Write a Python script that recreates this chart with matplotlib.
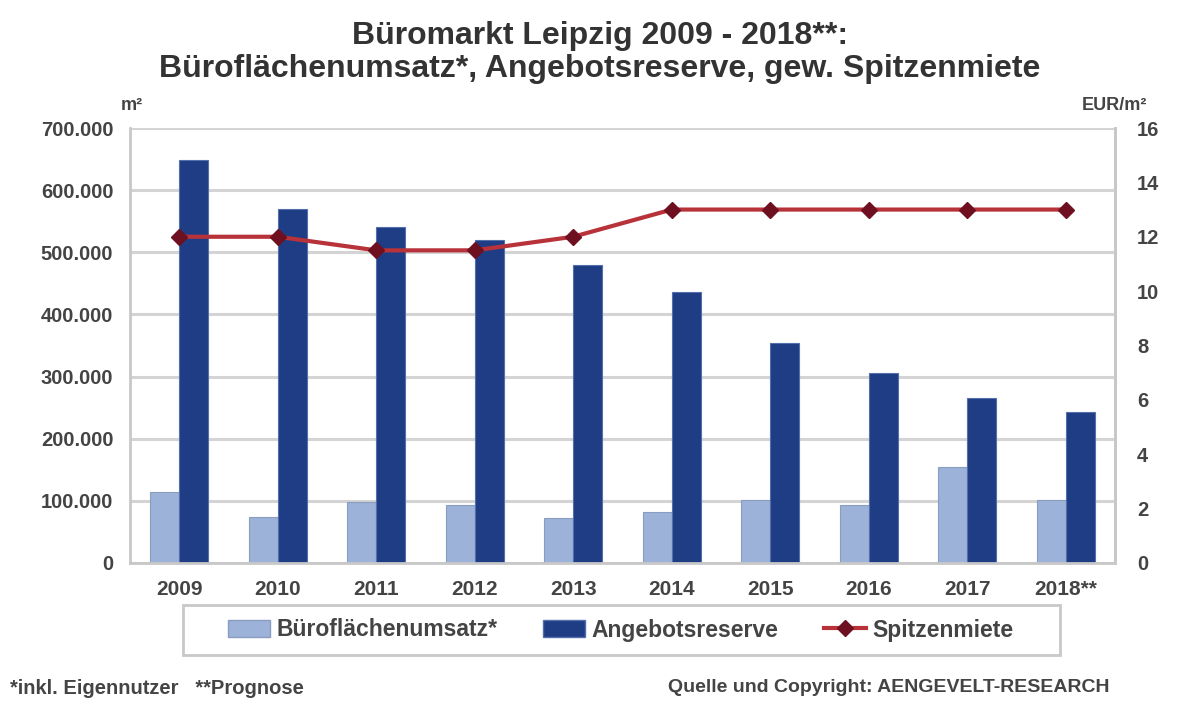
import matplotlib
matplotlib.use("Agg")
import matplotlib.pyplot as plt
import numpy as np
from matplotlib.lines import Line2D
from matplotlib.patches import Patch, Rectangle

plt.rcParams['font.family'] = ['Liberation Sans', 'DejaVu Sans']

years = ["2009", "2010", "2011", "2012", "2013", "2014", "2015", "2016", "2017", "2018**"]
umsatz = [114000, 74000, 98000, 93000, 72000, 82000, 101000, 93000, 155000, 101000]
angebot = [648000, 570000, 541000, 520000, 480000, 436000, 354000, 306000, 265000, 243000]
miete = [12.0, 12.0, 11.5, 11.5, 12.0, 13.0, 13.0, 13.0, 13.0, 13.0]

left_ticks = [0, 100000, 200000, 300000, 400000, 500000, 600000, 700000]
left_labels = ["0", "100.000", "200.000", "300.000", "400.000", "500.000", "600.000", "700.000"]
right_ticks = [0, 2, 4, 6, 8, 10, 12, 14, 16]

c_light = '#9db2d9'
c_dark = '#1f3d84'
c_line = '#b8323a'
c_mark = '#6e1020'
c_grid = '#d4d4d4'
c_text = '#444444'

fig = plt.figure(figsize=(12, 7.01), dpi=100)
ax = fig.add_axes([130/1200, 1-563/701, (1115-130)/1200, (563-128)/701])
x = np.arange(len(years))
w = 0.295
ax.bar(x - w/2, umsatz, w, color=c_light, edgecolor='#8a9cc0', linewidth=0.8, zorder=2)
ax.bar(x + w/2, angebot, w, color=c_dark, edgecolor='#5370ad', linewidth=0.8, zorder=2)
ax.set_xlim(-0.5, len(years) - 0.5)
ax.set_ylim(0, 700000)
ax.set_yticks(left_ticks)
ax.set_yticklabels(left_labels)
ax.set_xticks(x)
ax.set_xticklabels(years)
ax.grid(axis='y', color=c_grid, linewidth=2.2, zorder=0)
ax.set_axisbelow(True)
ax.spines['top'].set_visible(False)
for s in ['left', 'right', 'bottom']:
    ax.spines[s].set_color('#c8c8c8')
    ax.spines[s].set_linewidth(2)
ax.tick_params(axis='y', length=0, labelsize=14.5, labelcolor=c_text, pad=12)
ax.tick_params(axis='x', length=0, labelsize=15, labelcolor=c_text, pad=12)
for lab in ax.get_yticklabels() + ax.get_xticklabels():
    lab.set_fontweight('bold')

ax2 = ax.twinx()
ax2.plot(x, miete, color=c_line, linewidth=3, marker='D', markersize=8,
         markerfacecolor=c_mark, markeredgecolor=c_mark, zorder=5)
ax2.set_ylim(0, 16)
ax2.set_yticks(right_ticks)
ax2.tick_params(axis='y', length=0, labelsize=14.5, labelcolor=c_text, pad=16)
for lab in ax2.get_yticklabels():
    lab.set_fontweight('bold')
for s in ['top', 'left', 'bottom']:
    ax2.spines[s].set_visible(False)
ax2.spines['right'].set_color('#c8c8c8')
ax2.spines['right'].set_linewidth(2)

fig.text(132/1200, 1-106/701, "m²", fontsize=13, color=c_text, fontweight='bold', ha='center', va='center')
fig.text(1114/1200, 1-106/701, "EUR/m²", fontsize=13, color=c_text, fontweight='bold', ha='center', va='center')

fig.text(0.5, 1-36/701, "Büromarkt Leipzig 2009 - 2018**:", fontsize=23, fontweight='bold',
         color='#333333', ha='center', va='center')
fig.text(0.5, 1-69/701, "Büroflächenumsatz*, Angebotsreserve, gew. Spitzenmiete", fontsize=23,
         fontweight='bold', color='#333333', ha='center', va='center')

# legend frame
fig.patches.append(Rectangle((183/1200, 1-655/701), (1060-183)/1200, 50/701,
                             transform=fig.transFigure, facecolor='white',
                             edgecolor='#c8c8c8', linewidth=2, zorder=0))

handles = [Patch(facecolor=c_light, edgecolor='#8a9cc0'),
           Patch(facecolor=c_dark, edgecolor='#5370ad'),
           Line2D([0], [0], color=c_line, linewidth=3, marker='D', markersize=8,
                  markerfacecolor=c_mark, markeredgecolor=c_mark)]
leg = fig.legend(handles, ["Büroflächenumsatz*", "Angebotsreserve", "Spitzenmiete"],
                 loc='center', bbox_to_anchor=(621/1200, 1-630/701), ncol=3,
                 frameon=False, fontsize=16.5,
                 columnspacing=2.0, handlelength=1.8, handletextpad=0.3, borderpad=0.45)
for t in leg.get_texts():
    t.set_color(c_text)
    t.set_fontweight('bold')

fig.text(10/1200, 1-688/701, "*inkl. Eigennutzer   **Prognose", fontsize=14.5, color=c_text,
         fontweight='bold', ha='left', va='center')
fig.text(1110/1200, 1-688/701, "Quelle und Copyright: AENGEVELT-RESEARCH", fontsize=14,
         color=c_text, fontweight='bold', ha='right', va='center')

fig.savefig("out.png", dpi=100)
